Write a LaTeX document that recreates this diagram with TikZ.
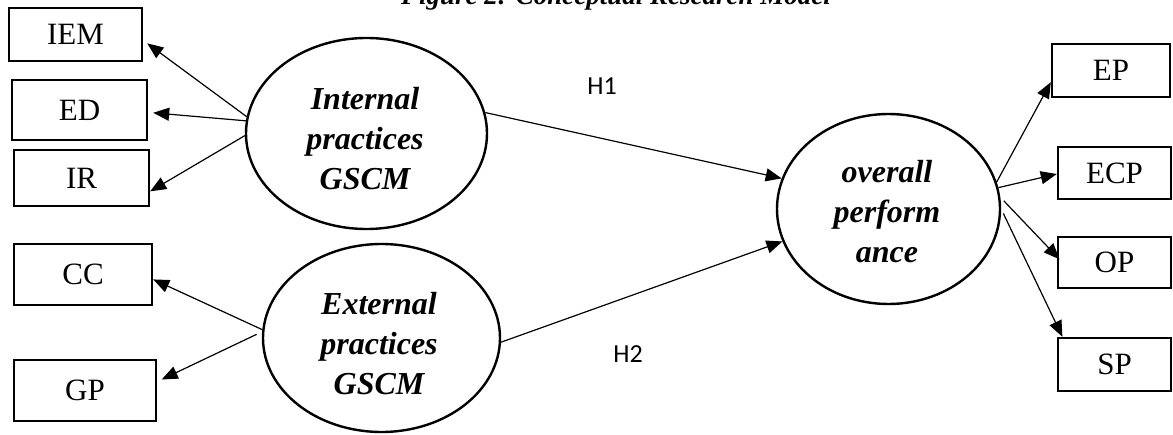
\documentclass[tikz,border=0pt]{standalone}
\usepackage{fontspec}
\setmainfont{Liberation Serif}
\newfontfamily\hfont{Carlito}
\usetikzlibrary{shapes.geometric,arrows.meta}
\begin{document}
\begin{tikzpicture}[x=1pt,y=-1pt,
  box/.style={draw,line width=2.4pt,inner sep=0pt,font=\fontsize{31}{36}\selectfont},
  construct/.style={draw,ellipse,line width=2.4pt,inner sep=0pt},
  ctext/.style={align=center,inner sep=0pt,font=\fontsize{32}{40}\selectfont\bfseries\itshape},
  link/.style={line width=1.2pt,-{Triangle[length=16pt,width=13pt]}},
  hyp/.style={font=\hfont\fontsize{26}{30}\selectfont}]
\useasboundingbox (0,0) rectangle (1173,435);

% title (cut off at the top)
\node[anchor=base,inner sep=0pt,font=\fontsize{27}{30}\selectfont\bfseries\itshape] (title) at (616,5) {Figure 2: Conceptual Research Model};

% left boxes
\node[box,minimum width=133pt,minimum height=53pt] (IEM) at (75.5,34.5) {IEM};
\node[box,minimum width=135pt,minimum height=60pt] (ED) at (79.5,110) {ED};
\node[box,minimum width=135pt,minimum height=56pt] (IR) at (81.5,178) {IR};
\node[box,minimum width=138pt,minimum height=61pt] (CC) at (83,274.5) {CC};
\node[box,minimum width=142pt,minimum height=61pt] (GP) at (85,390.5) {GP};

% right boxes
\node[box,minimum width=118pt,minimum height=53pt] (EP) at (1111,70.5) {EP};
\node[box,minimum width=113pt,minimum height=52pt] (ECP) at (1114.5,173) {ECP};
\node[box,minimum width=113pt,minimum height=51pt] (OP) at (1114.5,262.5) {OP};
\node[box,minimum width=113pt,minimum height=53pt] (SP) at (1114.5,364.5) {SP};

% constructs
\node[construct,minimum width=241pt,minimum height=191pt] (Int) at (366.5,133.5) {};
\node[ctext] (IntT) at (365,139) {Internal\\practices\\GSCM};
\node[construct,minimum width=237pt,minimum height=188pt] (Ext) at (381.5,338) {};
\node[ctext] (ExtT) at (379,344) {External\\practices\\GSCM};
\node[construct,minimum width=223pt,minimum height=190pt] (Ovr) at (888.5,209) {};
\node[ctext] (OvrT) at (887,212) {overall\\perform\\ance};

% hypothesis labels
\node[hyp] (H1) at (602,86) {H1};
\node[hyp] (H2) at (628,354) {H2};

% connectors
\draw[link,shorten >=5pt] (Int.172.4) -- (IEM.-5.9);
\draw[link,shorten >=5pt] (Int.174.2) -- (ED.-2.3);
\draw[link] (Int.181.2) -- (IR.-11.9);
\draw[link] (Ext.176.2) -- (CC.-4.5);
\draw[link,shorten >=5pt,shorten <=6pt] (Ext.177.7) -- (GP.7.8);
\draw[link] (Int.10.1) -- (Ovr.164.5);
\draw[link] (Ext.-2.5) -- (Ovr.197.3);
\draw[link] (Ovr.14.6) -- (EP.191.6);
\draw[link] (Ovr.11.9) -- (ECP.181);
\draw[link,shorten <=5pt,shorten >=-4pt] (Ovr.6.7) -- (OP.174);
\draw[link,shorten <=5pt] (Ovr.0.5) -- (SP.152.4);
\end{tikzpicture}
\end{document}
